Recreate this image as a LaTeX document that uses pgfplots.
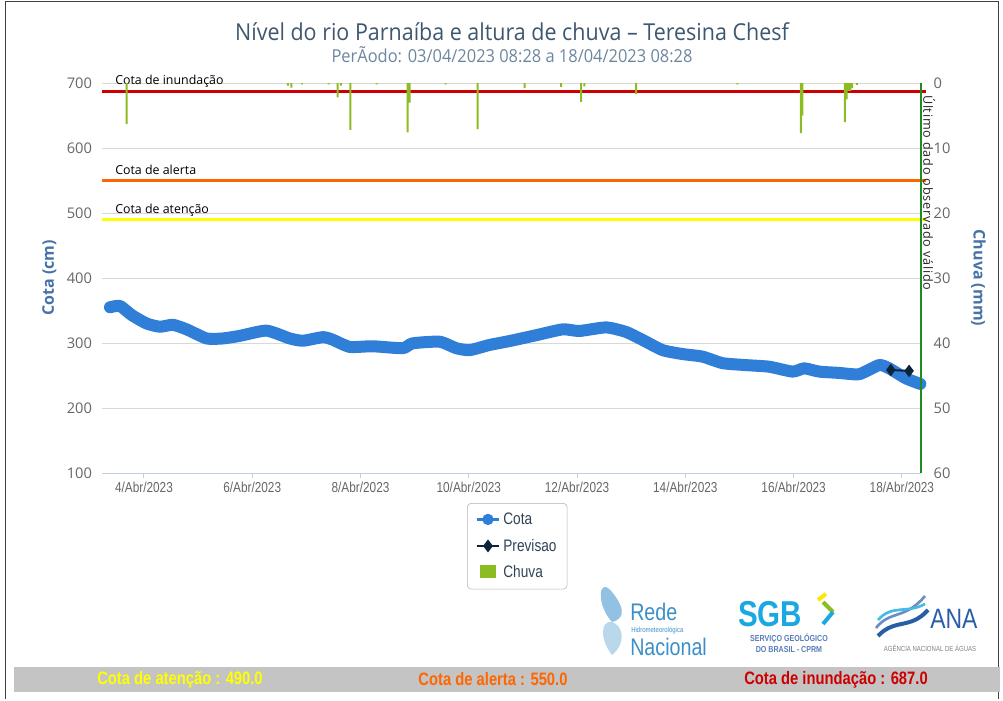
\documentclass[border=0pt]{standalone}
\usepackage{pgfplots}
\pgfplotsset{compat=1.18}
\usepackage{fontspec}
\setmainfont{Open Sans}
\newfontfamily\narrow[FakeStretch=0.82]{Liberation Sans}
\newfontfamily\titlefont[FakeStretch=0.92]{Open Sans}

\definecolor{cotablue}{HTML}{2F7ED8}
\definecolor{prevnavy}{HTML}{0D233A}
\definecolor{chuvagreen}{HTML}{8BBC21}
\definecolor{titlecol}{HTML}{3E576F}
\definecolor{subcol}{HTML}{6D869F}
\definecolor{axtitle}{HTML}{4572A7}
\definecolor{ticktxt}{HTML}{666666}
\definecolor{gridc}{HTML}{D8D8D8}
\definecolor{xaxc}{HTML}{C0D0E0}
\definecolor{inund}{HTML}{CC0000}
\definecolor{alerta}{HTML}{FF6600}
\definecolor{atenc}{HTML}{FFFF00}
\definecolor{lastc}{HTML}{1E8C1E}
\definecolor{barg}{HTML}{C4C4C4}
\definecolor{logoblue}{HTML}{3A8FC8}
\definecolor{sgbcyan}{HTML}{19A8E0}
\definecolor{anablue}{HTML}{2A5DA8}

\begin{document}
\begin{tikzpicture}[x=0.75pt,y=0.75pt]
% page frame
\path (0,0) rectangle (1003,700);
\draw[black!75, line width=0.6pt] (5,1) -- (5,699) -- (998,699) -- (998,1);

% titles
\node[titlecol] at (512,668) {\titlefont\fontsize{17.5}{20}\selectfont Nível do rio Parnaíba e altura de chuva – Teresina Chesf};
\node[subcol] at (512,645) {\titlefont\fontsize{13.4}{15}\selectfont PerÃodo: 03/04/2023 08:28 a 18/04/2023 08:28};

% ---- left axis: river level
\begin{axis}[
    at={(76.5pt,170.25pt)}, anchor=south west,
    scale only axis, width=614.25pt, height=292.5pt,
    xmin=3.225, xmax=18.353,
    ymin=100, ymax=700,
    ytick={100,200,...,700},
    ymajorgrids=true,
    grid style={gridc, line width=0.75pt},
    axis x line*=bottom, axis y line*=left,
    y axis line style={draw=none},
    x axis line style={xaxc, line width=0.75pt},
    ytick style={draw=none},
    xtick={4,6,...,18},
    xticklabels={4/Abr/2023,6/Abr/2023,8/Abr/2023,10/Abr/2023,12/Abr/2023,14/Abr/2023,16/Abr/2023,18/Abr/2023},
    xtick style={xaxc, line width=0.75pt},
    tick align=outside, major tick length=4pt,
    xticklabel style={font=\narrow\fontsize{10.8}{12}\selectfont, text=ticktxt, yshift=1pt},
    yticklabel style={font=\fontsize{11}{12}\selectfont, text=ticktxt, xshift=0pt},
    /pgf/number format/assume math mode=true,
    ylabel={Cota (cm)},
    ylabel style={font=\bfseries\fontsize{12}{14}\selectfont, text=axtitle, yshift=1pt},
    clip=false,
    legend style={at={(0.507,-0.077)}, anchor=north, draw=gray!60, rounded corners=3pt,
        font=\narrow\fontsize{12.5}{14}\selectfont, text=prevnavy!85,
        row sep=5.5pt, inner xsep=6pt, inner ysep=5pt},
    legend cell align=left,
]
\addlegendimage{cotablue, line width=2pt, mark=*, mark size=3.2pt}
\addlegendentry{Cota}
\addlegendimage{prevnavy, line width=2pt, mark=diamond*, mark size=3.2pt}
\addlegendentry{Previsao}
\addlegendimage{legend image code/.code={\fill[chuvagreen, sharp corners] (0.1cm,-0.13cm) rectangle (0.48cm,0.2cm);}}
\addlegendentry{Chuva}

% thresholds
\addplot[inund, line width=2.2pt, forget plot] coordinates {(3.225,687) (18.45,687)};
\addplot[alerta, line width=2.2pt, forget plot] coordinates {(3.225,550) (18.45,550)};
\addplot[atenc, line width=2.2pt, forget plot] coordinates {(3.225,490) (18.45,490)};
\node[anchor=base west, inner sep=0pt, font=\fontsize{9.3}{10}\selectfont] at (axis cs:3.465,697) {Cota de inundação};
\node[anchor=base west, inner sep=0pt, font=\fontsize{9.3}{10}\selectfont] at (axis cs:3.465,559) {Cota de alerta};
\node[anchor=base west, inner sep=0pt, font=\fontsize{9.3}{10}\selectfont] at (axis cs:3.465,500) {Cota de atenção};

% observed level
\addplot[cotablue, line width=9pt, smooth, tension=0.35, line cap=round, line join=round, forget plot]
coordinates {
    (3.373,355) (3.557,357) (3.773,343) (4.050,330) (4.295,325) (4.535,328)
    (4.788,321) (5.157,307) (5.457,307) (5.771,311) (6.264,319) (6.694,307)
    (6.939,303.5) (7.308,309) (7.487,305) (7.801,294) (8.225,295) (8.779,292)
    (8.963,299.5) (9.461,302) (9.769,292) (10.015,289) (10.384,297) (10.753,303)
    (11.245,312) (11.736,321) (12.044,318.5) (12.537,324) (12.906,317) (13.212,304.6)
    (13.581,289) (13.950,283) (14.319,279) (14.688,269) (15.120,266) (15.550,263.5)
    (15.980,256) (16.196,261) (16.472,256) (16.841,254) (17.210,252) (17.579,266)
    (17.764,261) (18.072,245.7) (18.340,237)
};
% forecast
\addplot[prevnavy, line width=1.5pt, mark=diamond*, mark size=3.5pt, forget plot]
coordinates {(17.795,258.5) (18.133,257)};
\end{axis}

% ---- right axis: rainfall
\begin{axis}[
    at={(76.5pt,170.25pt)}, anchor=south west,
    scale only axis, width=614.25pt, height=292.5pt,
    xmin=3.225, xmax=18.353,
    ymin=0, ymax=60, y dir=reverse,
    ytick={0,10,...,60},
    axis x line=none, axis y line*=right,
    y axis line style={draw=none},
    ytick style={draw=none},
    yticklabel style={font=\fontsize{11}{12}\selectfont, text=ticktxt, xshift=6pt},
    /pgf/number format/assume math mode=true,
    ylabel={Chuva (mm)},
    ylabel style={font=\bfseries\fontsize{12}{14}\selectfont, text=axtitle, rotate=180, yshift=8.5pt},
    clip=false,
]
\addplot[ybar, bar width=1.5pt, fill=chuvagreen, draw=none]
coordinates {
    (3.681,6.3) (6.657,0.4) (6.725,0.7) (6.915,0.2) (7.413,0.2) (7.579,2.2)
    (7.635,0.4) (7.814,7.2) (8.299,0.2) (8.871,7.6) (8.908,3.0) (9.572,0.2)
    (10.162,7.1) (11.03,0.8) (11.707,0.6) (12.076,2.9) (12.137,0.5) (13.09,1.7)
    (14.96,0.2) (16.135,7.7) (16.16,5.0) (16.946,6.0) (16.98,2.5) (17.01,1.2)
    (17.05,1.2) (17.08,0.8) (17.17,0.3)
};
\draw[lastc, line width=1.5pt] (axis cs:18.353,0) -- (axis cs:18.353,60);
\node[rotate=-90, anchor=south west, inner sep=1.5pt, font=\fontsize{9.5}{10}\selectfont, text=black!85]
    at (axis cs:18.353,1.5) {\addfontfeatures{LetterSpace=6}Último dado observado válido};
\end{axis}

% ---- logos (text renditions)
\fill[logoblue!55] (612,78) .. controls (596,95) and (598,125) .. (612,108) .. controls (622,96) and (628,82) .. (612,78) -- cycle;
\fill[logoblue!35] (612,45) .. controls (600,60) and (600,80) .. (612,78) .. controls (624,74) and (626,56) .. (612,45) -- cycle;
\node[anchor=west, logoblue, inner sep=0pt] at (630,88) {\narrow\fontsize{18}{20}\selectfont Rede};
\node[anchor=west, logoblue, inner sep=0pt] at (631,69) {\narrow\fontsize{5.5}{6}\selectfont Hidrometeorológica};
\node[anchor=west, logoblue, inner sep=0pt] at (630,53) {\narrow\fontsize{18}{20}\selectfont Nacional};

\node[anchor=west, sgbcyan, inner sep=0pt] at (738,86) {\narrow\bfseries\fontsize{27}{28}\selectfont SGB};
\draw[chuvagreen, line width=3pt] (823,98) -- (833,88);
\draw[sgbcyan, line width=3pt] (833,88) -- (823,76);
\draw[yellow!90!orange, line width=3pt] (818,100) -- (826,106);
\node[anchor=center, anablue!80, inner sep=0pt] at (789,61) {\narrow\bfseries\fontsize{6.5}{7}\selectfont SERVIÇO GEOLÓGICO};
\node[anchor=center, anablue!80, inner sep=0pt] at (789,50) {\narrow\bfseries\fontsize{6.5}{7}\selectfont DO BRASIL - CPRM};

\draw[anablue!70, line width=2pt] (876,72) .. controls (890,90) and (905,80) .. (925,104);
\draw[sgbcyan!80, line width=2pt] (878,80) .. controls (892,96) and (907,86) .. (925,96);
\draw[anablue, line width=3pt] (878,64) .. controls (895,82) and (910,70) .. (928,90);
\node[anchor=west, anablue, inner sep=0pt] at (930,81) {\narrow\fontsize{21}{22}\selectfont ANA};
\node[anchor=center, gray, inner sep=0pt] at (930,52) {\narrow\fontsize{5.5}{6}\selectfont AGÊNCIA NACIONAL DE ÁGUAS};

% ---- bottom bar
\fill[barg] (14,8) rectangle (1000,33);
\node[atenc] at (180,20.5) {\narrow\bfseries\fontsize{13.5}{14}\selectfont Cota de atenção : 490.0};
\node[alerta] at (493,20.5) {\narrow\bfseries\fontsize{13.5}{14}\selectfont Cota de alerta : 550.0};
\node[inund] at (836,20.5) {\narrow\bfseries\fontsize{13.5}{14}\selectfont Cota de inundação : 687.0};
\end{tikzpicture}
\end{document}
